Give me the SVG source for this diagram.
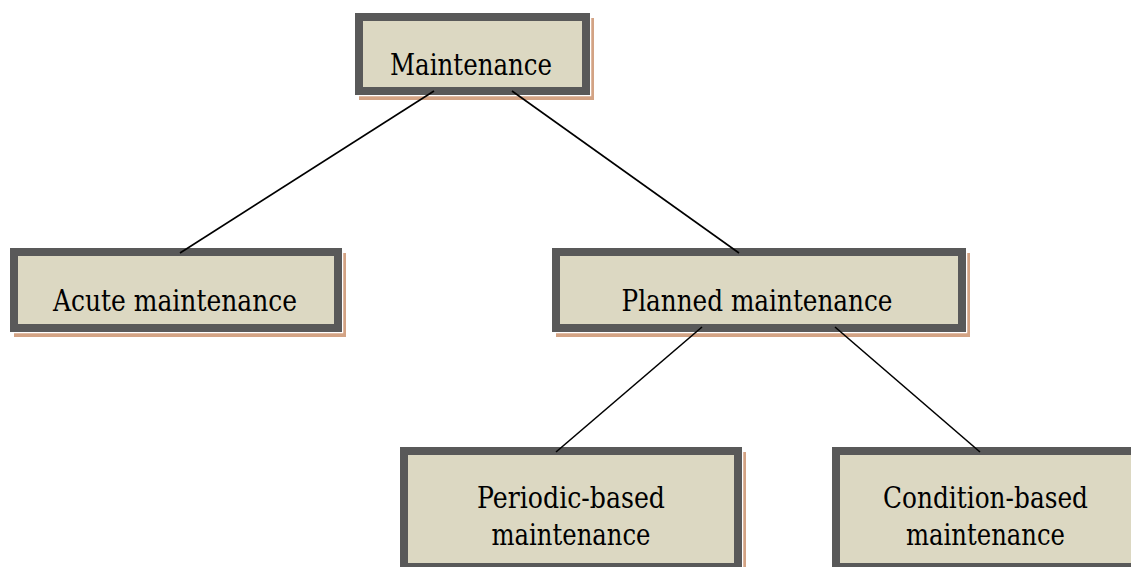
<svg xmlns="http://www.w3.org/2000/svg" width="1131" height="567" viewBox="0 0 1131 567">
<style>
.shadow{fill:#D3A384;}
.halo{fill:none;stroke:#FFFFFF;stroke-width:1.5;}
.box{fill:#DCD8C2;stroke:#595959;stroke-width:8;}
.lbl{font-family:"DejaVu Serif","Liberation Serif",serif;font-size:30px;fill:#000;text-anchor:middle;}
.conn{stroke:#000;stroke-width:1.6;fill:none;}
</style>
<rect width="1131" height="567" fill="#FFFFFF"/>
<g id="maintenance">
<rect class="shadow" x="359" y="18" width="235" height="82"/>
<rect class="halo" x="354.5" y="12.5" width="236" height="83"/>
<rect class="box" x="359" y="17" width="227" height="74"/>
<text class="lbl" x="471" y="75" textLength="162" lengthAdjust="spacingAndGlyphs">Maintenance</text>
</g>
<g id="acute">
<rect class="shadow" x="14" y="253" width="332" height="84"/>
<rect class="halo" x="9.5" y="247.5" width="333" height="85"/>
<rect class="box" x="14" y="252" width="324" height="76"/>
<text class="lbl" x="175" y="311" textLength="244" lengthAdjust="spacingAndGlyphs">Acute maintenance</text>
</g>
<g id="planned">
<rect class="shadow" x="556" y="253" width="414" height="84"/>
<rect class="halo" x="551.5" y="247.5" width="415" height="85"/>
<rect class="box" x="556" y="252" width="406" height="76"/>
<text class="lbl" x="757" y="311" textLength="271" lengthAdjust="spacingAndGlyphs">Planned maintenance</text>
</g>
<g id="periodic">
<rect class="shadow" x="404" y="452" width="342" height="124"/>
<rect class="halo" x="399.5" y="446.5" width="343" height="125"/>
<rect class="box" x="404" y="451" width="334" height="116"/>
<text class="lbl" x="571" y="508" textLength="188" lengthAdjust="spacingAndGlyphs">Periodic-based</text>
<text class="lbl" x="571" y="545" textLength="159" lengthAdjust="spacingAndGlyphs">maintenance</text>
</g>
<g id="condition">
<rect class="shadow" x="836" y="452" width="307" height="124"/>
<rect class="halo" x="831.5" y="446.5" width="308" height="125"/>
<rect class="box" x="836" y="451" width="299" height="116"/>
<text class="lbl" x="985.5" y="508" textLength="205" lengthAdjust="spacingAndGlyphs">Condition-based</text>
<text class="lbl" x="985.5" y="545" textLength="159" lengthAdjust="spacingAndGlyphs">maintenance</text>
</g>
<g id="connectors">
<line class="conn" x1="434" y1="91" x2="180" y2="253"/>
<line class="conn" x1="512" y1="91" x2="739" y2="253"/>
<line class="conn" x1="702" y1="327" x2="556" y2="452"/>
<line class="conn" x1="835" y1="327" x2="980" y2="452"/>
</g>
</svg>
